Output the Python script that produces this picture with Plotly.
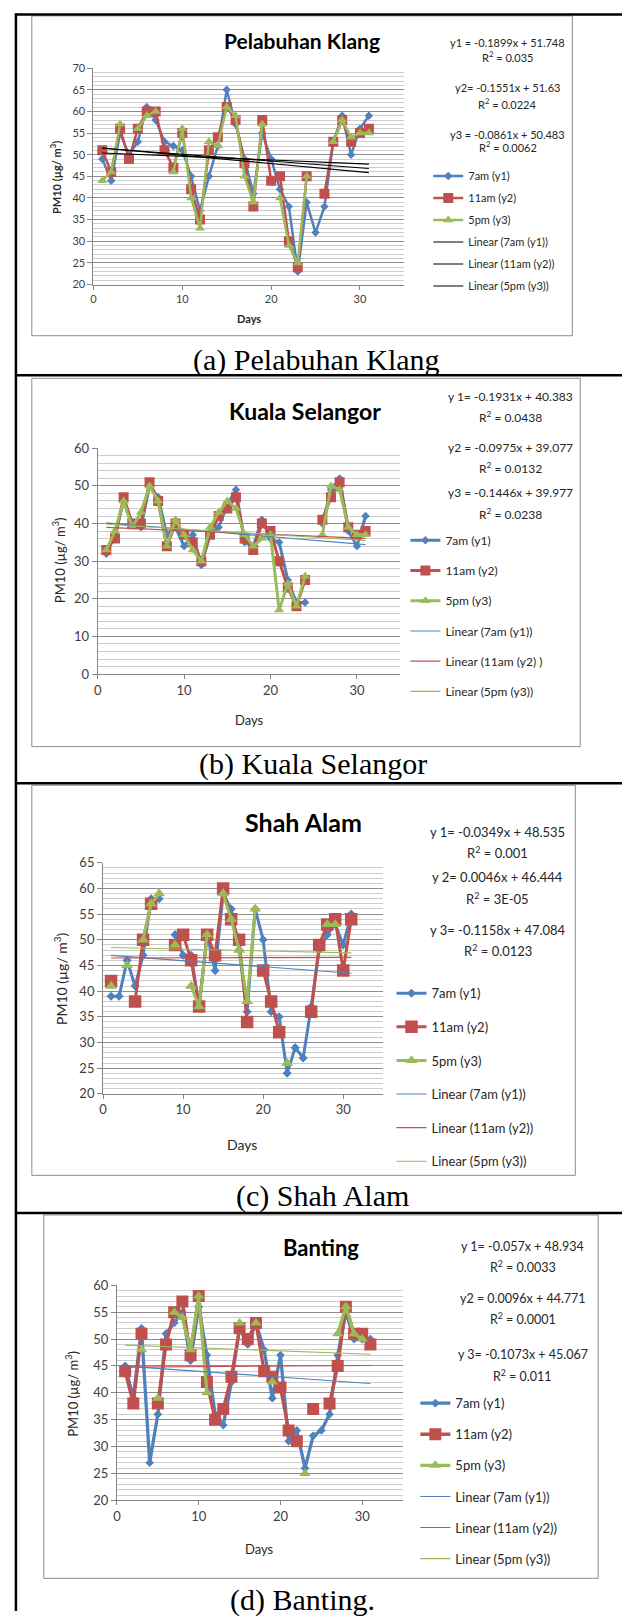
import plotly.graph_objects as go

W, H = 622, 1619

# ---------------- data ----------------
days = [1, 2, 3, 4, 5, 6, 7, 8, 9, 10, 11, 12, 13, 14, 15, 16, 17, 18, 19, 20,
        21, 22, 23, 24, 25, 26, 27, 28, 29, 30, 31]
x_ticks = [0, 10, 20, 30]

series_names = ["7am (y1)", "11am (y2)", "5pm (y3)"]

# (a) Pelabuhan Klang
a_7am = [49, 44, 55, 50, 53, 61, 58, 53, 52, 51, 45, 37, 45, 52, 65, 57, 49, 41, 55, 49,
         42, 38, 23, 39, 32, 38, 53, 59, 50, 56, 59]
a_11am = [51, 46, 56, 49, 56, 60, 60, 51, 47, 55, 42, 35, 51, 54, 61, 58, 48, 38, 58, 44,
          45, 30, 24, 45, None, 41, 53, 58, 53, 55, 56]
a_5pm = [44, 46, 57, None, 56, 59, 60, None, 46, 56, 40, 33, 53, 52, 61, 59, 45, 39, 57, None,
         40, 29, 25, 45, None, None, 53, 58, 54, 55, 55]
a_slope = [-0.1899, -0.1551, -0.0861]
a_icpt = [51.748, 51.63, 50.483]
a_eqs = ["y1 = -0.1899x + 51.748", "R<sup>2</sup> = 0.035",
         "y2= -0.1551x + 51.63", "R<sup>2</sup> = 0.0224",
         "y3 = -0.0861x + 50.483", "R<sup>2</sup> = 0.0062"]
a_trend_names = ["Linear (7am (y1))", "Linear (11am (y2))", "Linear (5pm (y3))"]

# (b) Kuala Selangor
b_7am = [32, 37, 46, 40, 39, 50, 47, 37, 39, 34, 37, 29, 37, 39, 45, 49, 35, 34, 41, 36,
         35, 25, 19, 19, None, 40, 49, 52, 38, 34, 42]
b_11am = [33, 36, 47, 40, 40, 51, 46, 34, 40, 37, 35, 30, 37, 42, 44, 47, 36, 33, 40, 38,
          30, 23, 18, 25, None, 41, 47, 51, 39, 37, 38]
b_5pm = [33, 38, 46, 39, 43, 50, 46, 34, 41, 37, 33, 30, 39, 43, 46, 44, 37, 34, 36, 37,
         17, 24, 18, 26, None, 37, 50, 49, 39, 37, 37]
b_slope = [-0.1931, -0.0975, -0.1446]
b_icpt = [40.383, 39.077, 39.977]
b_eqs = ["y 1= -0.1931x + 40.383", "R<sup>2</sup> = 0.0438",
         "y2 = -0.0975x + 39.077", "R<sup>2</sup> = 0.0132",
         "y3 = -0.1446x + 39.977", "R<sup>2</sup> = 0.0238"]
b_trend_names = ["Linear (7am (y1))", "Linear (11am (y2) )", "Linear (5pm (y3))"]

# (c) Shah Alam
c_7am = [39, 39, 46, 41, 47, 58, 58, None, 51, 47, 47, 37, 51, 44, 59, 56, 48, 36, 56, 50,
         36, 35, 24, 29, 27, 37, 48, 51, 53, 49, 55]
c_11am = [42, None, None, 38, 50, 57, None, None, 49, 51, 46, 37, 51, 47, 60, 54, 50, 34, None, 44,
          38, 32, None, None, None, 36, 49, 53, 54, 44, 54]
c_5pm = [41, None, 45, None, 50, 57, 59, None, 49, None, 41, 37, 51, None, 59, 54, 48, 38, 56, None,
         None, None, 26, None, None, None, None, 53, 53, None, None]
c_slope = [-0.1158, 0.0046, -0.0349]
c_icpt = [47.084, 46.444, 48.535]
c_eqs = ["y 1= -0.0349x + 48.535", "R<sup>2</sup> = 0.001",
         "y 2= 0.0046x + 46.444", "R<sup>2</sup> = 3E-05",
         "y 3= -0.1158x + 47.084", "R<sup>2</sup> = 0.0123"]
c_trend_names = ["Linear (7am (y1))", "Linear (11am (y2))", "Linear (5pm (y3))"]

# (d) Banting
d_7am = [45, 39, 52, 27, 36, 51, 53, 55, 46, 56, 47, 36, 34, 42, 52, 49, 53, 48, 39, 47,
         31, 33, 26, 32, 33, 36, 47, 55, 50, 50, 50]
d_11am = [44, 38, 51, None, 38, 49, 55, 57, 47, 58, 42, 35, 37, 43, 52, 50, 53, 44, 43, 41,
          33, 31, None, 37, None, 38, 45, 56, 51, 51, 49]
d_5pm = [None, None, 48, None, 39, None, 55, 54, 48, 58, 40, None, None, None, 53, None, 53, None, 42, None,
         None, None, 25, None, None, None, 51, 56, 51, 50, None]
d_slope = [-0.1073, 0.0096, -0.057]
d_icpt = [45.067, 44.771, 48.934]
d_eqs = ["y 1= -0.057x + 48.934", "R<sup>2</sup> = 0.0033",
         "y2 = 0.0096x + 44.771", "R<sup>2</sup> = 0.0001",
         "y 3= -0.1073x + 45.067", "R<sup>2</sup> = 0.011"]
d_trend_names = ["Linear (7am (y1))", "Linear (11am (y2))", "Linear (5pm (y3))"]

titles = ["Pelabuhan Klang", "Kuala Selangor", "Shah Alam", "Banting"]
captions = ["(a) Pelabuhan Klang", "(b) Kuala Selangor", "(c) Shah Alam", "(d) Banting."]
y_title = "PM10 (µg/ m<sup>3</sup>)"
x_title = "Days"

# ---------------- style ----------------
BLUE, RED, GREEN = "#4F81BD", "#C0504D", "#9BBB59"
COLORS = [BLUE, RED, GREEN]
SYMBOLS = ["diamond", "square", "triangle-up"]
FONT = "Lato, 'Open Sans', sans-serif"
SERIF = "'Liberation Serif', 'Times New Roman', serif"
TXT = "#262626"


def px(x):
    return x / W


def py(y):
    return 1 - y / H


panels = [
    dict(vals=[a_7am, a_11am, a_5pm], slope=a_slope, icpt=a_icpt, eqs=a_eqs, tnames=a_trend_names,
         tcolors=["#000000"] * 3, plot=(90, 60.7, 403, 279.3), yr=(20, 70), ymaj=5, ymin=1,
         tick=11, tpos=(300, 33), tsize=21, ytpos=(52, 171), xtpos=(247, 314), axsize=11, bold=True,
         eqx=507, eqy=[34.7, 49.3, 80.7, 96.7, 127.7, 139.7], eqsize=11,
         leg=(427, 155), legsize=11, leggap=3.0, msize=(6.5, 10, 9), lw=2.5,
         box=(28, 8, 572, 331), cap=(315, 356)),
    dict(vals=[b_7am, b_11am, b_5pm], slope=b_slope, icpt=b_icpt, eqs=b_eqs, tnames=b_trend_names,
         tcolors=COLORS, plot=(94.3, 444.7, 398.7, 672.7), yr=(0, 60), ymaj=10, ymin=2,
         tick=13, tpos=(303, 407), tsize=23, ytpos=(55, 558), xtpos=(247, 719), axsize=13, bold=False,
         eqx=510, eqy=[392.7, 412.7, 444, 465, 489.3, 510.7], eqsize=12,
         leg=(404, 523), legsize=12, leggap=11.2, msize=(6.5, 10, 9), lw=3,
         box=(28, 374, 580, 746), cap=(311, 764)),
    dict(vals=[c_7am, c_11am, c_5pm], slope=c_slope, icpt=c_icpt, eqs=c_eqs, tnames=c_trend_names,
         tcolors=COLORS, plot=(99.7, 863.3, 381.7, 1096.7), yr=(20, 65), ymaj=5, ymin=1,
         tick=13, tpos=(301, 822), tsize=25, ytpos=(57, 981), xtpos=(240, 1148), axsize=14, bold=False,
         eqx=497, eqy=[832.3, 853.3, 877.3, 899.3, 930.7, 951.7], eqsize=13,
         leg=(390, 980), legsize=13, leggap=13.7, msize=(7, 12.5, 10.5), lw=3,
         box=(28, 785, 575, 1179), cap=(321, 1200)),
    dict(vals=[d_7am, d_11am, d_5pm], slope=d_slope, icpt=d_icpt, eqs=d_eqs, tnames=d_trend_names,
         tcolors=COLORS, plot=(113.7, 1290, 401.7, 1507.3), yr=(20, 60), ymaj=5, ymin=1,
         tick=13, tpos=(319, 1252), tsize=22, ytpos=(68, 1400), xtpos=(257, 1556), axsize=13, bold=False,
         eqx=522, eqy=[1250.7, 1270.7, 1303.3, 1323.3, 1360, 1380.7], eqsize=12.5,
         leg=(414, 1394), legsize=13, leggap=11.2, msize=(6.7, 12, 10), lw=3.3,
         box=(40, 1219, 598, 1586), cap=(300, 1608)),
]

fig = go.Figure()
layout = dict(width=W, height=H, margin=dict(l=0, r=0, t=0, b=0),
              paper_bgcolor="white", plot_bgcolor="white", font=dict(family=FONT, color=TXT, size=12),
              showlegend=True)
annotations = []
shapes = []

for i, p in enumerate(panels):
    n = i + 1
    xa = "x" if n == 1 else f"x{n}"
    ya = "y" if n == 1 else f"y{n}"
    legname = "legend" if n == 1 else f"legend{n}"
    x0, y0, x1, y1 = p["plot"]

    # data series
    for k in range(3):
        fig.add_trace(go.Scatter(
            x=days, y=p["vals"][k], mode="lines+markers", name=series_names[k],
            xaxis=xa, yaxis=ya, legend=legname, legendgroup=f"p{n}s{k}",
            line=dict(color=COLORS[k], width=p["lw"]),
            marker=dict(symbol=SYMBOLS[k], size=p["msize"][k], color=COLORS[k],
                        line=dict(width=0)),
            connectgaps=False, hoverinfo="x+y"))
    # linear trendlines
    xs = [min(days), max(days)]
    for k in range(3):
        fig.add_trace(go.Scatter(
            x=xs, y=[p["slope"][k] * v + p["icpt"][k] for v in xs], mode="lines",
            name=p["tnames"][k], xaxis=xa, yaxis=ya, legend=legname,
            legendgroup=f"p{n}t{k}",
            line=dict(color=p["tcolors"][k], width=1.1), hoverinfo="skip"))

    layout["xaxis" if n == 1 else f"xaxis{n}"] = dict(
        domain=[px(x0), px(x1)], range=[0, 35], anchor=ya, tickvals=x_ticks,
        ticks="outside", ticklen=4, tickcolor="#868686", showline=True, linecolor="#868686",
        linewidth=1, showgrid=False, zeroline=False,
        tickfont=dict(size=p["tick"], family=FONT, color="#404040"))
    layout["yaxis" if n == 1 else f"yaxis{n}"] = dict(
        domain=[py(y1), py(y0)], range=list(p["yr"]), anchor=xa,
        tick0=p["yr"][0], dtick=p["ymaj"], ticks="outside", ticklen=5, tickcolor="#868686",
        showline=True, linecolor="#868686", linewidth=1, showgrid=True,
        gridcolor="#8C8C8C", gridwidth=1, zeroline=False,
        minor=dict(dtick=p["ymin"], showgrid=True, gridcolor="#CDCDCD", gridwidth=1, ticks=""),
        tickfont=dict(size=p["tick"], family=FONT, color="#404040"))

    lx, ly = p["leg"]
    layout[legname] = dict(
        x=px(lx), y=py(ly), xref="paper", yref="paper", xanchor="left", yanchor="top",
        bgcolor="rgba(0,0,0,0)", borderwidth=0, tracegroupgap=p["leggap"],
        font=dict(size=p["legsize"], family=FONT, color=TXT), itemwidth=30,
        itemclick=False, itemdoubleclick=False)

    # chart frame
    bx0, by0, bx1, by1 = p["box"]
    shapes.append(dict(type="rect", xref="paper", yref="paper",
                       x0=px(bx0), x1=px(bx1), y0=py(by1), y1=py(by0),
                       line=dict(color="#8C8C8C", width=1), fillcolor="rgba(0,0,0,0)"))

    # title
    annotations.append(dict(x=px(p["tpos"][0]), y=py(p["tpos"][1]), xref="paper", yref="paper",
                            text=f"<b>{titles[i]}</b>", showarrow=False,
                            font=dict(size=p["tsize"], family=FONT, color="#000000"),
                            xanchor="center", yanchor="middle"))
    # axis titles
    yt = f"<b>{y_title}</b>" if p["bold"] else y_title
    xt = f"<b>{x_title}</b>" if p["bold"] else x_title
    annotations.append(dict(x=px(p["ytpos"][0]), y=py(p["ytpos"][1]), xref="paper", yref="paper",
                            text=yt, showarrow=False, textangle=-90,
                            font=dict(size=p["axsize"], family=FONT, color=TXT),
                            xanchor="center", yanchor="middle"))
    annotations.append(dict(x=px(p["xtpos"][0]), y=py(p["xtpos"][1]), xref="paper", yref="paper",
                            text=xt, showarrow=False,
                            font=dict(size=p["axsize"], family=FONT, color=TXT),
                            xanchor="center", yanchor="middle"))
    # equations
    for t, yy in zip(p["eqs"], p["eqy"]):
        annotations.append(dict(x=px(p["eqx"]), y=py(yy), xref="paper", yref="paper",
                                text=t, showarrow=False,
                                font=dict(size=p["eqsize"], family=FONT, color=TXT),
                                xanchor="center", yanchor="middle"))
    # caption
    annotations.append(dict(x=px(p["cap"][0]), y=py(p["cap"][1]), xref="paper", yref="paper",
                            text=captions[i], showarrow=False,
                            font=dict(size=30, family=SERIF, color="#000000"),
                            xanchor="center", yanchor="middle"))

# table borders
for yy in [6.5, 371, 783, 1217]:
    shapes.append(dict(type="line", xref="paper", yref="paper", x0=px(11), x1=1,
                       y0=py(yy), y1=py(yy), line=dict(color="#000000", width=2.5)))
shapes.append(dict(type="line", xref="paper", yref="paper", x0=px(12), x1=px(12),
                   y0=py(5.5), y1=0, line=dict(color="#000000", width=2.5)))

layout["annotations"] = annotations
layout["shapes"] = shapes
fig.update_layout(**layout)
fig.write_html("out.html")
